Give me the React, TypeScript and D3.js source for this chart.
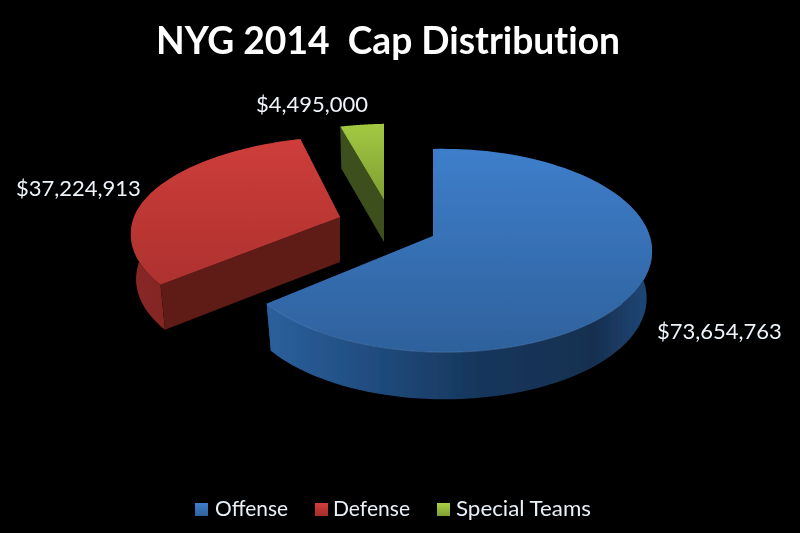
import React from "react";
import * as d3 from "d3";

const categories = ["Offense", "Defense", "Special Teams"];
const values = [73654763, 37224913, 4495000];
const valueLabels = ["$73,654,763", "$37,224,913", "$4,495,000"];
const title = "NYG 2014  Cap Distribution";

const topColors = [["#3e7ecb", "#2e619c"], ["#d03e3b", "#a32e2b"], ["#a9d044", "#7f9f34"]];
const wallStops = [
  [["0", "#2b609c"], ["0.3", "#1f4a7c"], ["0.55", "#17365c"], ["0.85", "#172f50"], ["1", "#20497a"]],
  [["0", "#8a2826"], ["1", "#641b19"]],
  [["0", "#4a6026"], ["1", "#4a6026"]],
];
const radialWallColors = ["#1c4474", "#5e1b18", "#3d4f1e"];
const sliceOffset = [[433, 236], [340, 217], [384, 200]];
// [x scale, y scale behind the apex, y scale in front of it, shear]
const sliceScale = [[0.99, 1, 1, 0], [1.04, 0.93, 1, -7], [1, 0.875, 1, 0]];
const sliceDepth = [47, 45, 42];
const labelPos = [[657, 339], [16, 196], [256, 112]];
const legendMarkerX = [195, 315, 437];
const legendTextX = [215, 333, 456];
const legendTextWidth = [73, 77, 135];

const W = 800, H = 533, K = 0.143, M = 0.05, BOTTOM_SHRINK = 0.975;
const xS = d3.scaleLinear().domain([-1, 1]).range([-208, 208]);
const yS = d3.scaleLinear().domain([-1, 1]).range([-99.5, 99.5]);

function project(a: number, r: number, i: number, dy = 0): [number, number] {
  const u = r * Math.sin(a), v = -r * Math.cos(a);
  const s = 1 / (1 - K * v - M * u);
  const [sx, syB, syF, shear] = sliceScale[i];
  const px = (xS(u) * sx + shear * v) * s * (dy > 0 ? BOTTOM_SHRINK : 1);
  return [
    sliceOffset[i][0] + px,
    sliceOffset[i][1] + yS(v) * s * (v < 0 ? syB : syF) + dy,
  ];
}

const line = d3.line<[number, number]>().x((d) => d[0]).y((d) => d[1]);

function arcPts(a0: number, a1: number, i: number, dy = 0): [number, number][] {
  const n = 96;
  return d3.range(n + 1).map((k) => project(a0 + ((a1 - a0) * k) / n, 1, i, dy));
}

export default function App() {
  const arcs = d3.pie<number>().sort(null).startAngle(0).endAngle(2 * Math.PI)(values);
  const blueEnd = arcs[0].endAngle;
  return (
    <svg width={W} height={H} viewBox={`0 0 ${W} ${H}`} style={{ position: "absolute", left: 0, top: 0, background: "#000", display: "block" }}>
      <defs>
        <filter id="soft" x="-5%" y="-5%" width="110%" height="110%">
          <feGaussianBlur stdDeviation="0.45" />
        </filter>
        {arcs.map((_, i) => {
          const y0 = sliceOffset[i][1] - 90, y1 = sliceOffset[i][1] + 118;
          return (
            <linearGradient key={i} id={`top${i}`} gradientUnits="userSpaceOnUse" x1="0" x2="0" y1={y0} y2={i === 2 ? sliceOffset[i][1] : y1}>
              <stop offset="0" stopColor={topColors[i][0]} />
              <stop offset="1" stopColor={topColors[i][1]} />
            </linearGradient>
          );
        })}
        {arcs.map((_, i) => (
          <linearGradient key={i} id={`wall${i}`} x1="0" x2="1" y1="0" y2="0">
            {wallStops[i].map((s, j) => <stop key={j} offset={s[0]} stopColor={s[1]} />)}
          </linearGradient>
        ))}
        {topColors.map((c, i) => (
          <linearGradient key={i} id={`mark${i}`} x1="0" x2="0" y1="0" y2="1">
            <stop offset="0" stopColor={c[0]} />
            <stop offset="1" stopColor={c[1]} />
          </linearGradient>
        ))}
      </defs>
      <rect width={W} height={H} fill="#000" />
      <g filter="url(#soft)">
        <text x={388} y={54} textAnchor="middle" fill="#fff" fontFamily="Lato" fontWeight={700} fontSize={38} textLength={464} lengthAdjust="spacingAndGlyphs" xmlSpace="preserve" style={{ fontVariantLigatures: "none" }}>{title}</text>
        {arcs.map((d, i) => {
          const a0 = d.startAngle, a1 = d.endAngle, dep = sliceDepth[i];
          const c = project(0, 0, i);
          const cB = project(0, 0, i, dep);
          const radial = (a: number) => {
            const p = project(a, 1, i), q = project(a, 1, i, dep);
            return line([c, p, q, cB])! + "Z";
          };
          const top = arcPts(a0, a1, i);
          const bottom = arcPts(a0, a1, i, dep);
          const wall = [...top, ...bottom.slice().reverse()];
          return (
            <g key={i}>
              <path d={radial(a1)} fill={radialWallColors[i]} />
              {i !== 2 && <path d={line(wall)! + "Z"} fill={`url(#wall${i})`} />}
              <path d={radial(a0)} fill={radialWallColors[i]} />
              <path d={line([c, ...top])! + "Z"} fill={`url(#top${i})`} />
            </g>
          );
        })}
        <path d={line(arcPts(blueEnd * 0.55, blueEnd, 0))!} fill="none" stroke="#6a9ad6" strokeOpacity={0.35} />
        {valueLabels.map((t, i) => (
          <text key={i} x={labelPos[i][0]} y={labelPos[i][1]} fill="#eef4fa" fontFamily="Lato" fontSize={22} style={{ fontVariantLigatures: "none" }}>{t}</text>
        ))}
        {categories.map((t, i) => (
          <g key={i}>
            <rect x={legendMarkerX[i]} y={503} width={13} height={13} fill={`url(#mark${i})`} />
            <text x={legendTextX[i]} y={516} fill="#e8f0f8" fontFamily="Lato" fontSize={21} textLength={legendTextWidth[i]} lengthAdjust="spacingAndGlyphs">{t}</text>
          </g>
        ))}
      </g>
    </svg>
  );
}
